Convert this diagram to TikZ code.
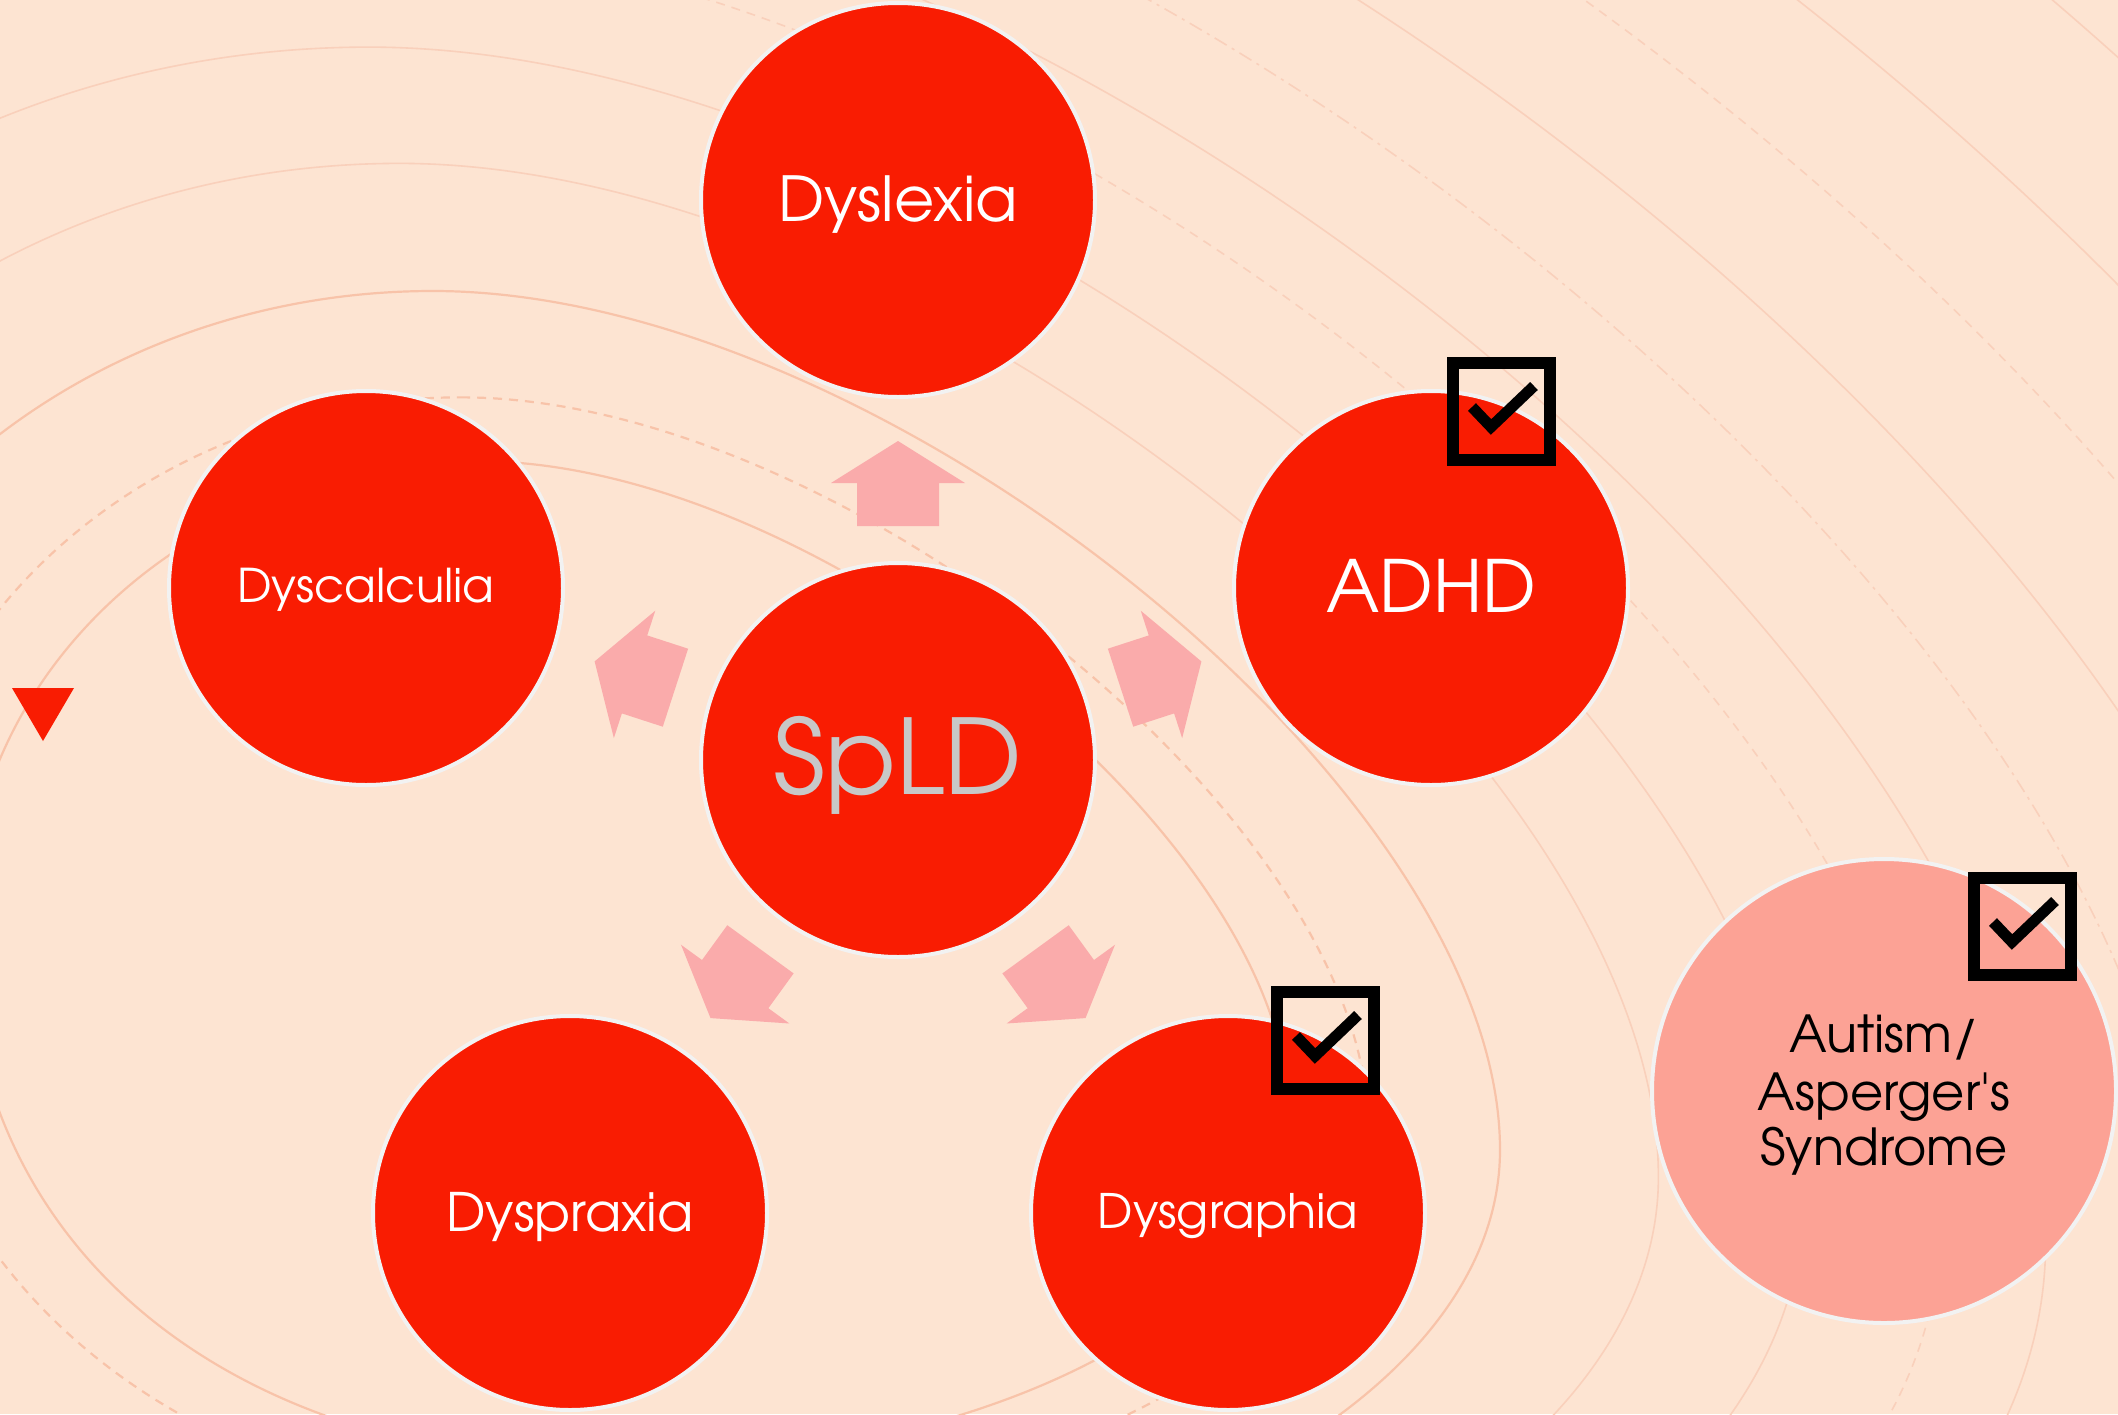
\documentclass[tikz,border=0pt]{standalone}
\usepackage{fontspec}
\setmainfont{texgyreadventor-regular.otf}[Ligatures=TeXOff]
\definecolor{peach}{HTML}{FDE4D2}
\definecolor{swirlA}{HTML}{F8C3A9}
\definecolor{swirlB}{HTML}{F9D0BB}
\definecolor{spred}{HTML}{F91C02}
\definecolor{rim}{HTML}{F2F2F2}
\definecolor{arrowpink}{HTML}{FAABAB}
\definecolor{softred}{HTML}{FCA295}
\definecolor{greytext}{HTML}{C8C8C8}
\tikzset{
  swA/.style={draw=swirlA, line width=2.2pt},
  swB/.style={draw=swirlB, line width=1.6pt},
  dashsw/.style={dash pattern=on 9pt off 7pt},
  dotsw/.style={dash pattern=on 14pt off 6pt on 3pt off 6pt},
  disc/.style={circle, fill=spred, draw=rim, line width=4pt, minimum size=394pt, inner sep=0pt},
  softdisc/.style={circle, fill=softred, draw=rim, line width=4pt, minimum size=464pt, inner sep=0pt},
  lbl/.style={anchor=base, text=white, inner sep=0pt},
  % one closed swoosh, four cubic quadrants between its extreme points
  swoosh/.pic={
    \path[pic actions] (-187,-709)
      .. controls (261,-709) and (880,-211) .. (880,150)
      .. controls (880,404) and (486,610) .. (0,610)
      .. controls (-516,610) and (-860,326) .. (-860,-100)
      .. controls (-860,-436) and (-558,-709) .. (-187,-709) -- cycle;
  },
  blockarrow/.pic={
    \fill[arrowpink] (-41,-234) -- (41,-234) -- (41,-277) -- (67,-277)
      -- (0,-319) -- (-67,-277) -- (-41,-277) -- cycle;
  },
  tickbox/.pic={
    \draw[line width=12pt] (6,6) rectangle (103,103);
    \draw[line width=11pt, line join=miter] (25,50) -- (44,70) -- (87,29);
  }
}
\begin{document}
\begin{tikzpicture}[x=1pt, y=-1pt]
  % page and background
  \path[use as bounding box] (0,0) rectangle (2118,1414);
  \fill[peach] (0,0) rectangle (2118,1414);

  % nested background swooshes
  \begin{scope}
    \clip (0,0) rectangle (2118,1414);
    \coordinate (swc) at (620,1000);
    \pic[swA, scale=0.76] at (swc) {swoosh};
    \pic[swA, dashsw, scale=0.85] at (swc) {swoosh};
    \pic[swA, scale=1.0] at (swc) {swoosh};
    \pic[swB, scale=1.18] at (swc) {swoosh};
    \pic[swB, scale=1.344] at (swc) {swoosh};
    \pic[swB, dashsw, scale=1.5] at (swc) {swoosh};
    \pic[swB, scale=1.62] at (swc) {swoosh};
    \pic[swB, dotsw, scale=1.78] at (swc) {swoosh};
    \pic[swB, scale=1.95] at (swc) {swoosh};
    \pic[swB, dashsw, scale=2.15] at (swc) {swoosh};
    \pic[swB, scale=2.35] at (swc) {swoosh};
    \pic[swB, scale=2.6] at (swc) {swoosh};
  \end{scope}

  % circles
  \node[disc] (spld) at (898,760) {};
  \node[disc] (dyslexia) at (898,200) {};
  \node[disc] (dyscalculia) at (366,588) {};
  \node[disc] (adhd) at (1431,588) {};
  \node[disc] (dyspraxia) at (570,1213) {};
  \node[disc] (dysgraphia) at (1228,1213) {};
  \node[softdisc] (autism) at (1884,1091) {};

  % block arrows radiating from the centre
  \pic at (spld.center) {blockarrow};
  \pic[rotate=72] at (spld.center) {blockarrow};
  \pic[rotate=-72] at (spld.center) {blockarrow};
  \pic[rotate=144] at (spld.center) {blockarrow};
  \pic[rotate=-144] at (spld.center) {blockarrow};

  % labels
  \node[lbl, text=greytext, font=\fontsize{104}{110}\selectfont] (t0) at ([yshift=-34pt]spld.center) {SpLD};
  \node[lbl, font=\fontsize{62}{70}\selectfont] (t1) at ([yshift=-21pt]dyslexia.center) {Dyslexia};
  \node[lbl, font=\fontsize{46.5}{54}\selectfont] (t2) at ([yshift=-14pt]dyscalculia.center) {Dyscalculia};
  \node[lbl, font=\fontsize{72}{80}\selectfont] (t3) at ([yshift=-24pt]adhd.center) {ADHD};
  \node[lbl, font=\fontsize{53}{60}\selectfont] (t4) at ([yshift=-18pt]dyspraxia.center) {Dyspraxia};
  \node[lbl, font=\fontsize{47.5}{54}\selectfont] (t5) at ([yshift=-15pt]dysgraphia.center) {Dysgraphia};
  \node[lbl, text=black, font=\fontsize{51}{57}\selectfont] (t6) at ([yshift=39pt]autism.center) {Autism/};
  \node[lbl, text=black, font=\fontsize{51}{57}\selectfont] (t7) at ([yshift=-19pt]autism.center) {Asperger's};
  \node[lbl, text=black, font=\fontsize{51}{57}\selectfont] (t8) at ([yshift=-74pt]autism.center) {Syndrome};

  % tick boxes
  \pic at (1447,357) {tickbox};
  \pic at (1271,986) {tickbox};
  \pic at (1968,872) {tickbox};

  % small red marker at the left edge
  \fill[spred] (12,688) -- (74,688) -- (43,741) -- cycle;
\end{tikzpicture}
\end{document}
